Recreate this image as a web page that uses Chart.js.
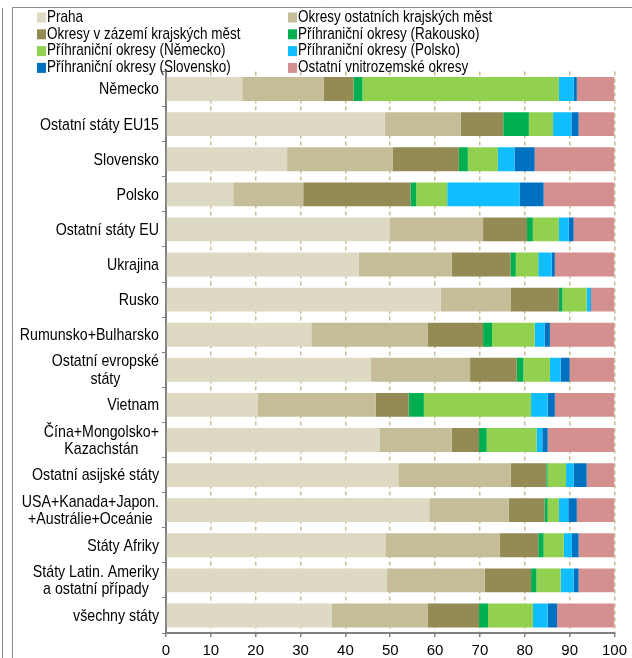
<!DOCTYPE html>
<html><head><meta charset="utf-8">
<script src="https://cdn.jsdelivr.net/npm/chart.js@4.4.1/dist/chart.umd.min.js"></script>
<style>html,body{margin:0;padding:0;background:#fff;overflow:hidden}#wrap{width:632px;height:658px;position:relative}</style>
</head><body><div id="wrap"><canvas id="c" width="632" height="658"></canvas></div>
<script>
const categories = [["Německo"],["Ostatní státy EU15"],["Slovensko"],["Polsko"],["Ostatní státy EU"],["Ukrajina"],["Rusko"],["Rumunsko+Bulharsko"],["Ostatní evropské","státy"],["Vietnam"],["Čína+Mongolsko+","Kazachstán"],["Ostatní asijské státy"],["USA+Kanada+Japon.","+Austrálie+Oceánie"],["Státy Afriky"],["Státy Latin. Ameriky","a ostatní případy"],["všechny státy"]];
const seriesNames = ["Praha","Okresy ostatních krajských měst","Okresy v zázemí krajských měst","Příhraniční okresy (Rakousko)","Příhraniční okresy (Německo)","Příhraniční okresy (Polsko)","Příhraniční okresy (Slovensko)","Ostatní vnitrozemské okresy"];
const praha      = [17.0, 48.8, 27.0, 15.0, 49.9, 43.0, 61.3, 32.4, 45.6, 20.4, 47.6, 51.8, 58.7, 48.9, 49.3, 36.9];
const okresyKraj = [18.2, 16.9, 23.5, 15.6, 20.8, 20.7, 15.5, 26.0, 22.2, 26.4, 16.1, 25.1, 17.7, 25.5, 21.8, 21.5];
const zazemi     = [6.6, 9.5, 14.8, 23.9, 9.8, 13.1, 10.8, 12.3, 10.4, 7.3, 6.1, 7.9, 8.0, 8.6, 10.3, 11.4];
const rakousko   = [2.0, 5.7, 2.0, 1.3, 1.3, 1.2, 0.8, 2.0, 1.5, 3.4, 1.7, 0.3, 0.7, 1.2, 1.2, 2.0];
const nemecko    = [43.8, 5.4, 6.7, 6.9, 5.8, 5.0, 5.4, 9.5, 5.9, 23.9, 11.1, 4.1, 2.5, 4.5, 5.4, 10.0];
const polsko     = [3.3, 4.1, 3.7, 16.2, 2.2, 3.0, 0.8, 2.2, 2.4, 3.7, 1.3, 1.7, 2.1, 1.8, 2.9, 3.3];
const slovensko  = [0.7, 1.6, 4.5, 5.3, 1.1, 0.7, 0.2, 1.2, 2.0, 1.6, 1.2, 2.9, 1.9, 1.5, 1.1, 2.1];
const ostatni    = [8.4, 8.0, 17.8, 15.8, 9.1, 13.3, 5.2, 14.4, 10.0, 13.3, 14.9, 6.2, 8.4, 8.0, 8.0, 12.8];
const xTicks = [0,10,20,30,40,50,60,70,80,90,100];

const colors = ["#DDD9C3","#C4BD97","#948A54","#00B050","#92D050","#10BEFF","#0070C0","#D4908F"];
const seriesData = [praha, okresyKraj, zazemi, rakousko, nemecko, polsko, slovensko, ostatni];
const FONT = '"Liberation Sans", Arial, sans-serif';

function drawText(ctx, txt, x, y, size, align, sy) {
  ctx.save();
  ctx.translate(x, y);
  ctx.scale(1, sy);
  ctx.font = size + 'px ' + FONT;
  ctx.textAlign = align;
  ctx.textBaseline = 'middle';
  ctx.fillStyle = '#000';
  ctx.fillText(txt, 0, 0);
  ctx.restore();
}

const decor = {
  id: 'decor',
  beforeDraw(chart) {
    const ctx = chart.ctx;
    ctx.save();
    ctx.fillStyle = '#fff';
    ctx.fillRect(0, 0, chart.width, chart.height);
    ctx.strokeStyle = '#8a8a8a';
    ctx.lineWidth = 1;
    ctx.beginPath();
    ctx.moveTo(2.5, 8); ctx.lineTo(2.5, 658);
    ctx.moveTo(12.5, 658); ctx.lineTo(12.5, 7.5); ctx.lineTo(632, 7.5);
    ctx.stroke();
    ctx.restore();
  },
  afterDraw(chart) {
    const ctx = chart.ctx;
    // legend
    chart.data.datasets.forEach((ds, i) => {
      const col = i % 2, row = Math.floor(i / 2);
      const bx = col === 0 ? 37 : 288;
      const cy = 17.5 + row * 16.8;
      ctx.fillStyle = ds.backgroundColor;
      ctx.fillRect(bx, cy - 5, 9, 10);
      drawText(ctx, ds.label, bx + 10, cy, 13.5, 'left', 1.18);
    });
    // category labels
    const ys = chart.scales.y;
    ctx.save();
    ctx.font = '14.2px ' + FONT;
    chart.data.labels.forEach((lab, i) => {
      const cy = ys.getPixelForValue(i);
      const right = 159;
      if (lab.length === 1) {
        drawText(ctx, lab[0], right, cy + 1, 14.2, 'right', 1.12);
      } else {
        const w = Math.max(...lab.map(t => ctx.measureText(t).width));
        const cx = right - w / 2;
        const sp = 17.5;
        lab.forEach((t, k) => {
          drawText(ctx, t, cx, cy + 1 + (k - (lab.length - 1) / 2) * sp, 14.2, 'center', 1.12);
        });
      }
    });
    ctx.restore();
  }
};

new Chart(document.getElementById('c'), {
  type: 'bar',
  data: {
    labels: categories,
    datasets: seriesNames.map((n, i) => ({
      label: n,
      data: seriesData[i],
      backgroundColor: colors[i],
      borderWidth: 0,
      categoryPercentage: 1,
      barPercentage: 0.68
    }))
  },
  options: {
    indexAxis: 'y',
    responsive: false,
    devicePixelRatio: 1,
    animation: false,
    layout: { padding: { top: 71.5, right: 16, left: 0, bottom: 0 } },
    plugins: { legend: { display: false }, tooltip: { enabled: false }, title: { display: false } },
    scales: {
      x: {
        stacked: true, min: 0, max: 100,
        afterBuildTicks(s) { s.ticks = xTicks.map(v => ({ value: v })); },
        afterFit(s) { s.height = 25; },
        ticks: { font: { size: 15, family: FONT }, color: '#000', padding: 5, maxRotation: 0 },
        grid: { color: '#C8BD92', lineWidth: 1.5, tickColor: '#808080', tickLength: 4, tickWidth: 1.5, drawOnChartArea: true },
        border: { display: true, color: '#808080', width: 2, dash: [4, 3] }
      },
      y: {
        stacked: true,
        afterFit(s) { s.width = 166; },
        ticks: { display: false },
        grid: { drawOnChartArea: false, drawTicks: true, tickLength: 4, color: '#808080', lineWidth: 1, offset: true },
        border: { display: true, color: '#808080', width: 2 }
      }
    }
  },
  plugins: [decor]
});
</script>
</body></html>
